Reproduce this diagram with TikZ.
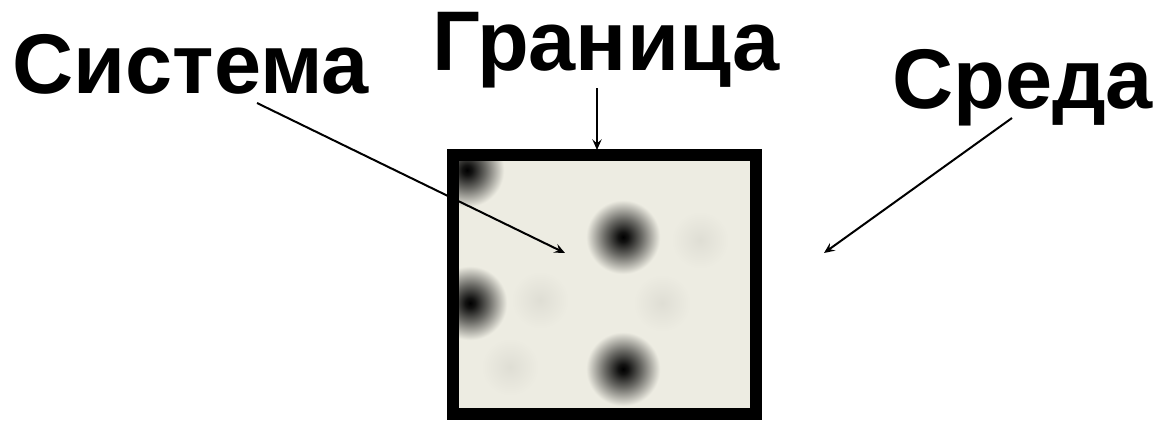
\documentclass[tikz,border=0pt]{standalone}
\usepackage{fontspec}
\setmainfont{Liberation Sans}
\usetikzlibrary{arrows.meta}
\definecolor{paper}{RGB}{237,236,226}
\pgfdeclareradialshading{spot}{\pgfpoint{0bp}{0bp}}{color(0bp)=(black); color(3bp)=(black!92!paper); color(11bp)=(black!55!paper); color(22bp)=(paper); color(50bp)=(paper)}
\pgfdeclareradialshading{faintspot}{\pgfpoint{0bp}{0bp}}{color(0bp)=(black!6!paper); color(24bp)=(paper); color(50bp)=(paper)}
\tikzset{
  word/.style={font=\bfseries\fontsize{63.5}{72}\selectfont, inner sep=0pt, anchor=base west},
  pointer/.style={-{Stealth[length=8pt,width=7pt,inset=3pt]}, line width=1.5pt},
  frame/.style={draw=black, line width=9pt}
}
\begin{document}
\begin{tikzpicture}[x=0.75pt,y=-0.75pt]
\useasboundingbox (0,0) rectangle (1157,421);

%%% the box with its particles
\fill[paper] (453,155) rectangle (756,414);
\begin{scope}
  \clip (459,161) rectangle (750,408);
  \foreach \px/\py in {510/367,662/303,700/240,540/300}
    \shade[shading=faintspot] (\px,\py) circle (30);
  \foreach \px/\py in {467/170,470/303,623/237,623/369}
    \shade[shading=spot] (\px,\py) circle (42);
\end{scope}
\draw[frame] (453,155) rectangle (756,414);

%%% labels
\node[word] (sistema) at (12,93) {Система};
\node[word] (granica) at (432,70) {Граница};
\node[word] (sreda) at (892,108) {Среда};

\coordinate (sistema tail) at (257,103);
\coordinate (granica tail) at (597,88);
\coordinate (sreda tail) at (1012,118);
\coordinate (inside) at (565,253);
\coordinate (edge) at (597,150);
\coordinate (outside) at (824,253);

%%% arrows
\draw[pointer] (sistema tail) -- (inside);
\draw[pointer] (granica tail) -- (edge);
\draw[pointer] (sreda tail) -- (outside);

\end{tikzpicture}
\end{document}
